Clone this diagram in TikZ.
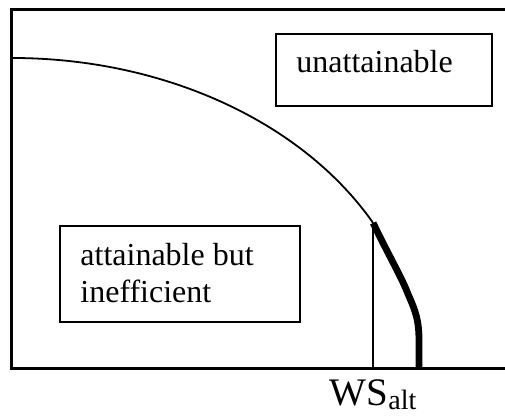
\documentclass[tikz,border=0pt]{standalone}
\usepackage{fontspec}
\setmainfont{Liberation Serif}
\usetikzlibrary{positioning}

\begin{document}
\begin{tikzpicture}[x=0.5pt, y=0.5pt,
    region/.style={draw, line width=1pt, inner sep=0pt},
    lbl/.style={font=\fontsize{16}{18.5}\selectfont, inner sep=0pt, align=left}]
    \useasboundingbox (0,0) rectangle (505,416);

    % axes
    \draw[line width=1.5pt] (505,406) -- (12,406) -- (12,47) -- (505,47);

    % frontier
    \coordinate (top) at (12,358);
    \draw[line width=0.9pt] (top)
        arc[start angle=90, end angle=28, x radius=204.5pt, y radius=155.5pt] coordinate (kink);
    \coordinate (foot) at (419,47);
    \draw[line width=3.4pt, line join=round] (kink) .. controls (390,158) and (402,138) .. (408,122)
        .. controls (416,104) and (419,95) .. (419,75) -- (foot);
    \draw[line width=0.8pt] (kink) -- (kink |- foot) coordinate (ws);

    \node[region, minimum width=108pt, minimum height=36pt] (unatt) at (384,346) {};
    \node[lbl, anchor=base west] (unatttxt) at (296,343) {unattainable};

    \node[region, minimum width=120pt, minimum height=48pt] (ineff) at (180,142) {};
    \node[lbl, anchor=north west] (inefftxt) at (80,173) {attainable but\\inefficient};

    \node[inner sep=0pt, font=\fontsize{19.5}{19.5}\selectfont, below=5pt of ws] (wslbl)
        {WS\raisebox{-2pt}{\fontsize{14}{14}\selectfont alt}};
\end{tikzpicture}
\end{document}
